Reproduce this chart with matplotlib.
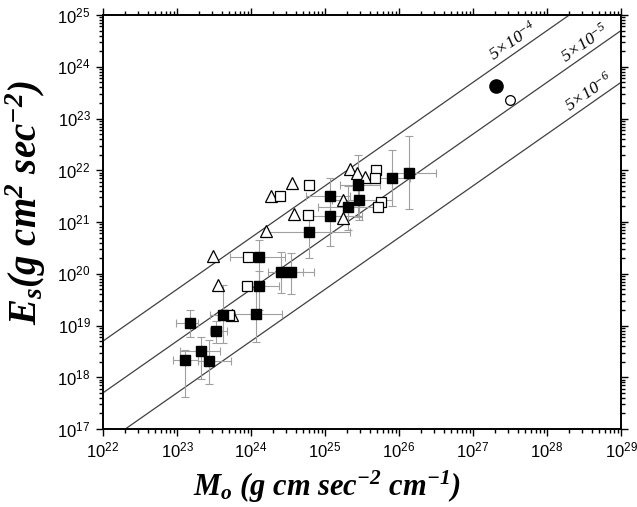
import numpy as np
import matplotlib
matplotlib.use('Agg')
import matplotlib.pyplot as plt
from matplotlib.ticker import LogLocator, FuncFormatter, NullFormatter

plt.rcParams['mathtext.fontset'] = 'custom'
plt.rcParams['mathtext.rm'] = 'Liberation Serif:bold:italic'
plt.rcParams['mathtext.it'] = 'Liberation Serif:bold:italic'
plt.rcParams['mathtext.bf'] = 'Liberation Serif:bold:italic'
plt.rcParams['mathtext.sf'] = 'Liberation Sans'
plt.rcParams['mathtext.cal'] = 'Liberation Serif:italic'

# filled squares (with error bars)
fill_M = [1.28e23, 1.5e23, 2.1e23, 2.7e23, 3.37e23, 4.2e23, 1.17e24, 1.28e24, 1.28e24,
          2.54e24, 3.47e24, 6.1e24, 1.17e25, 1.17e25, 2.05e25, 2.9e25, 2.8e25, 8.0e25, 1.36e26]
fill_E = [2.15e18, 1.12e19, 3.2e18, 2.06e18, 7.8e18, 1.6e19, 1.67e19, 5.8e19, 2.1e20,
          1.08e20, 1.08e20, 6.4e20, 3.2e21, 1.3e21, 1.95e21, 2.66e21, 5.2e21, 7.1e21, 8.9e21]
fill_M_lo = [8.9e22, 9.8e22, 1.1e23, 1.9e23, 2.8e23, 2.8e23, 5.2e23, 7.6e23, 5.2e23,
             1.7e24, 2.4e24, 1.7e24, 5.6e24, 5.0e24, 8.0e24, 1.26e25, 1.6e25, 4.0e25, 8.0e25]
fill_M_hi = [1.9e23, 1.9e23, 3.8e23, 5.4e23, 4.7e23, 6.0e23, 2.6e24, 2.4e24, 2.9e24,
             5.0e24, 7.1e24, 2.2e25, 2.2e25, 3.2e25, 5.0e25, 8.0e25, 5.6e25, 1.4e26, 3.2e26]
fill_E_lo = [4.2e17, 6.0e18, 9.3e17, 7.3e17, 4.6e18, 4.6e18, 4.8e18, 2.0e19, 6.6e19,
             4.3e19, 4.0e19, 2.0e20, 1.25e21, 3.5e20, 7.0e20, 1.1e21, 1.26e21, 2.0e21, 1.8e21]
fill_E_hi = [3.4e18, 2.0e19, 6.0e18, 5.2e18, 1.2e19, 6.0e19, 5.0e19, 1.15e20, 4.5e20,
             2.6e20, 2.5e20, 1.6e21, 7.1e21, 3.2e21, 5.0e21, 6.3e21, 2.0e22, 2.5e22, 4.5e22]

# open squares
open_M = [9.1e23, 5.0e23, 2.47e24, 5.9e24, 6.1e24, 4.9e25, 4.7e25, 5.7e25, 5.2e25, 8.8e23]
open_E = [2.1e20, 1.6e19, 3.2e21, 1.36e21, 5.2e21, 1.0e22, 7.1e21, 2.4e21, 1.95e21, 5.8e19]

# open triangles
tri_M = [3.58e24, 1.86e24, 3.81e24, 1.6e24, 3.06e23, 3.58e23, 1.75e25, 1.75e25,
         2.18e25, 2.7e25, 3.48e25, 5.5e23]
tri_E = [5.7e21, 3.2e21, 1.43e21, 6.7e20, 2.2e20, 6.1e19, 1.19e21, 2.66e21,
         1.06e22, 8.9e21, 7.4e21, 1.6e19]

# circles
circ_fill_M, circ_fill_E = [2.05e27], [4.25e23]
circ_open_M, circ_open_E = [3.16e27], [2.3e23]

# reference lines E = k * M
ratios = [5e-4, 5e-5, 5e-6]
ratio_labels = [r'$\mathcal{5{\times}10^{-4}}$', r'$\mathcal{5{\times}10^{-5}}$', r'$\mathcal{5{\times}10^{-6}}$']
label_M = [2.1e27, 1.95e28, 2.2e28]
line_M = np.array([1e22, 1e29])

fig = plt.figure(figsize=(6.37, 5.07), dpi=100)
ax = fig.add_axes([0.1617, 0.1538, 0.8132, 0.8166])
ax.set_xscale('log')
ax.set_yscale('log')
ax.set_xlim(1e22, 1e29)
ax.set_ylim(1e17, 1e25)

slope_deg = np.degrees(np.arctan((414 / 8) / (518 / 7)))
for k, lab, m0 in zip(ratios, ratio_labels, label_M):
    ax.plot(line_M, k * line_M, color='#404040', lw=0.9, zorder=1)
    ax.annotate(lab, xy=(m0, k * m0), xytext=(-2.0, 3.0), textcoords='offset points',
                rotation=slope_deg, rotation_mode='anchor', ha='left', va='baseline',
                fontsize=12.5, color='black')

fill_M = np.array(fill_M)
fill_E = np.array(fill_E)
xerr = [fill_M - np.array(fill_M_lo), np.array(fill_M_hi) - fill_M]
yerr = [fill_E - np.array(fill_E_lo), np.array(fill_E_hi) - fill_E]
ax.errorbar(fill_M, fill_E, xerr=xerr, yerr=yerr, fmt='none', ecolor='#a0a0a0',
            elinewidth=0.8, capsize=3, capthick=0.8, zorder=2)

ax.plot(tri_M, tri_E, '^', ms=8.5, mfc='white', mec='black', mew=0.9, zorder=3)
ax.plot(open_M, open_E, 's', ms=6.5, mfc='white', mec='black', mew=0.9, zorder=3)
ax.plot(fill_M, fill_E, 's', ms=7, mfc='black', mec='black', zorder=4)
ax.plot(circ_fill_M, circ_fill_E, 'o', ms=9.5, mfc='black', mec='black', zorder=4)
ax.plot(circ_open_M, circ_open_E, 'o', ms=7, mfc='white', mec='black', mew=0.9, zorder=4)

for axis in (ax.xaxis, ax.yaxis):
    axis.set_major_locator(LogLocator(base=10, numticks=20))
    axis.set_minor_locator(LogLocator(base=10, subs=np.arange(2, 10), numticks=100))
    axis.set_major_formatter(FuncFormatter(lambda v, p: r'$\mathsf{10^{%d}}$' % round(np.log10(v))))
    axis.set_minor_formatter(NullFormatter())

ax.tick_params(which='both', direction='out', top=True, right=True, width=1.0,
               labelsize=12, colors='black')
ax.tick_params(which='major', length=5, pad=4)
ax.tick_params(which='minor', length=2.8)
for sp in ax.spines.values():
    sp.set_linewidth(1.4)

ax.set_xlabel(r'$M_o$ (g cm sec$^{-2}$ cm$^{-1}$)', fontsize=22, fontfamily='Liberation Serif',
              fontweight='bold', fontstyle='italic')
ax.set_ylabel(r'$E_s$(g cm$^2$ sec$^{-2}$)', fontsize=28, fontfamily='Liberation Serif',
              fontweight='bold', fontstyle='italic')
ax.xaxis.set_label_coords(0.432, -0.097)
ax.yaxis.set_label_coords(-0.106, 0.548)

fig.savefig('out.png', dpi=100)
